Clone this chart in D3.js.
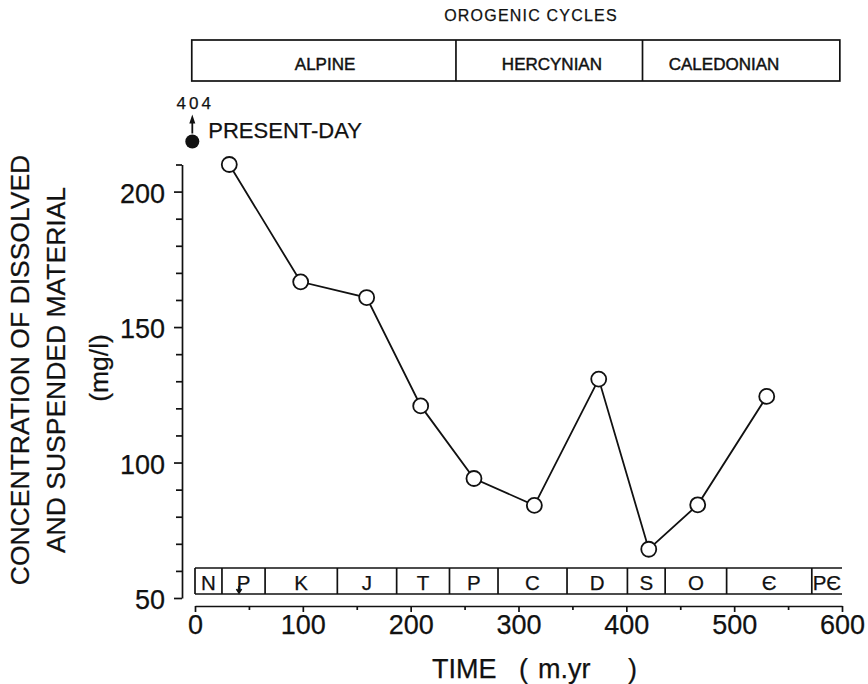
<!DOCTYPE html>
<html>
<head>
<meta charset="utf-8">
<script src="https://cdn.jsdelivr.net/npm/d3@7"></script>
<style>
  body { margin: 0; background: #fff; }
  svg text { font-family: "Liberation Sans", Arial, Helvetica, sans-serif; fill: #111; stroke: #111; stroke-width: 0.25px; }
</style>
</head>
<body>
<svg id="chart" width="868" height="684"></svg>
<script>
// Sample ages (m.y.) and river-load concentrations (mg/l)
const ages = [31.8, 98.0, 159.2, 209.3, 258.7, 314.7, 374.4, 420.8, 466.2, 530.2];
const concentration = [210, 166.7, 160.9, 120.9, 94.1, 84.2, 130.8, 68.0, 84.4, 124.4];

// Present-day value lies far above the plotted range
const presentDayAge = -2.5;
const presentDayValue = 404;

// Geological periods along the time axis
const periodNames = ["N", "Ꝑ", "K", "J", "T", "P", "C", "D", "S", "O", "Є", "PЄ"];
const periodBounds = [0, 25, 65, 132, 187, 236, 281, 345, 401, 436, 493, 572, 600];

// Orogenic cycles
const orogenicNames = ["ALPINE", "HERCYNIAN", "CALEDONIAN"];
const orogenicBounds = [-3, 242, 415, 598];
const orogenicLabelAges = [120.6, 331, 490.6];

// Axis ticks
const xTicks = d3.range(0, 601, 50);
const xTickLabels = [0, 100, 200, 300, 400, 500, 600];
const yTicks = d3.range(50, 211, 10);
const yTickLabels = [50, 100, 150, 200];

const ink = "#111";
const svg = d3.select("#chart");

const x = d3.scaleLinear().domain([0, 600]).range([195, 842]);
const y = d3.scaleLinear().domain([50, 210]).range([598, 164.5]);

// ---- X axis ----
const xAxisY = 606;
const gx = svg.append("g")
  .attr("transform", `translate(0,${xAxisY})`)
  .call(d3.axisBottom(x).tickValues(xTicks).tickSizeOuter(0)
    .tickFormat(d => xTickLabels.includes(d) ? d : ""));
gx.select(".domain").attr("stroke", ink).attr("stroke-width", 1.7);
gx.selectAll(".tick line").attr("stroke", ink).attr("stroke-width", 1.7)
  .attr("y2", d => xTickLabels.includes(d) ? 6 : 4);
gx.selectAll(".tick text").attr("font-size", 27).attr("y", 28).attr("dy", null)
  .attr("fill", ink);

// ---- Y axis ----
const yAxisX = 182;
const gy = svg.append("g")
  .attr("transform", `translate(${yAxisX},0)`)
  .call(d3.axisLeft(y).tickValues(yTicks).tickSizeOuter(0)
    .tickFormat(d => yTickLabels.includes(d) ? d : ""));
gy.select(".domain").attr("stroke", ink).attr("stroke-width", 1.7);
gy.selectAll(".tick line").attr("stroke", ink).attr("stroke-width", 1.7)
  .attr("x2", d => yTickLabels.includes(d) ? -8 : -6);
gy.selectAll(".tick text").attr("font-size", 27).attr("x", -17).attr("dy", "0.4em")
  .attr("fill", ink);

// ---- Axis titles ----
const xTitle = svg.append("text").attr("y", 678).attr("font-size", 27);
xTitle.append("tspan").attr("x", 432).text("TIME");
xTitle.append("tspan").attr("x", 519).text("(");
xTitle.append("tspan").attr("x", 538).text("m.yr");
xTitle.append("tspan").attr("x", 628).text(")");

const yTitle = svg.append("g").attr("transform", "translate(0,370) rotate(-90)");
yTitle.append("text").attr("x", 0).attr("y", 29).attr("text-anchor", "middle")
  .attr("font-size", 26.5).text("CONCENTRATION OF DISSOLVED");
yTitle.append("text").attr("x", 0).attr("y", 65).attr("text-anchor", "middle")
  .attr("font-size", 26.5).text("AND SUSPENDED MATERIAL");
yTitle.append("text").attr("x", 2).attr("y", 108).attr("text-anchor", "middle")
  .attr("font-size", 26.5).text("(mg/l)");

// ---- Period band ----
const bandTop = 568, bandBottom = 594;
const band = svg.append("g");
band.append("line").attr("x1", x(0)).attr("x2", x(600))
  .attr("y1", bandTop).attr("y2", bandTop).attr("stroke", ink).attr("stroke-width", 1.7);
band.append("line").attr("x1", x(0)).attr("x2", x(600))
  .attr("y1", bandBottom).attr("y2", bandBottom).attr("stroke", ink).attr("stroke-width", 1.7);
band.selectAll("line.div")
  .data(periodBounds.slice(0, -1))
  .join("line").attr("class", "div")
  .attr("x1", d => x(d)).attr("x2", d => x(d))
  .attr("y1", bandTop).attr("y2", bandBottom)
  .attr("stroke", ink).attr("stroke-width", 1.7);
periodNames.forEach((name, i) => {
  const cx = (x(periodBounds[i]) + x(periodBounds[i + 1])) / 2;
  const isPg = name === "Ꝑ";
  band.append("text")
    .attr("x", cx).attr("y", 590)
    .attr("text-anchor", "middle")
    .attr("font-size", 20.5)
    .text(isPg ? "P" : name);
  if (isPg) {
    // stroke through the descender of the Paleogene symbol
    const sx = cx - 4.5;
    band.append("path")
      .attr("d", `M${sx},586 L${sx},592 M${sx - 2.5},589 L${sx},593 L${sx + 2.5},589`)
      .attr("fill", "none").attr("stroke", ink).attr("stroke-width", 1.7);
  }
});

// ---- Orogenic cycles ----
const oroTop = 40, oroBottom = 81;
const oro = svg.append("g");
oro.append("rect")
  .attr("x", x(orogenicBounds[0])).attr("y", oroTop)
  .attr("width", x(orogenicBounds[3]) - x(orogenicBounds[0]))
  .attr("height", oroBottom - oroTop)
  .attr("fill", "none").attr("stroke", ink).attr("stroke-width", 1.7);
oro.selectAll("line")
  .data(orogenicBounds.slice(1, -1))
  .join("line")
  .attr("x1", d => x(d)).attr("x2", d => x(d))
  .attr("y1", oroTop).attr("y2", oroBottom)
  .attr("stroke", ink).attr("stroke-width", 1.7);
oro.selectAll("text")
  .data(orogenicNames)
  .join("text")
  .attr("x", (d, i) => x(orogenicLabelAges[i]))
  .attr("y", 69.5)
  .attr("text-anchor", "middle")
  .attr("font-size", 17)
  .style("stroke-width", "0.45px")
  .text(d => d);
svg.append("text")
  .attr("x", 531).attr("y", 21)
  .attr("text-anchor", "middle")
  .attr("font-size", 16)
  .attr("letter-spacing", 1.2)
  .text("OROGENIC CYCLES");

// ---- Data series ----
const pts = ages.map((a, i) => [a, concentration[i]]);
svg.append("path")
  .datum(pts)
  .attr("d", d3.line().x(d => x(d[0])).y(d => y(d[1])))
  .attr("fill", "none").attr("stroke", ink).attr("stroke-width", 1.8);
svg.selectAll("circle.obs")
  .data(pts)
  .join("circle").attr("class", "obs")
  .attr("cx", d => x(d[0])).attr("cy", d => y(d[1]))
  .attr("r", 7.5)
  .attr("fill", "#fff").attr("stroke", ink).attr("stroke-width", 1.8);

// ---- Present-day marker (off scale, shown above the axis top) ----
const pdX = x(presentDayAge);
const pdY = y(y.domain()[1]) - 23;
svg.append("circle")
  .attr("cx", pdX).attr("cy", pdY).attr("r", 7)
  .attr("fill", ink);
svg.append("line")
  .attr("x1", pdX).attr("x2", pdX)
  .attr("y1", pdY - 8).attr("y2", pdY - 21)
  .attr("stroke", ink).attr("stroke-width", 1.8);
svg.append("path")
  .attr("d", `M${pdX - 3},${pdY - 18} L${pdX},${pdY - 27} L${pdX + 3},${pdY - 18} Z`)
  .attr("fill", ink);
svg.append("text")
  .attr("x", pdX + 3).attr("y", pdY - 33)
  .attr("text-anchor", "middle")
  .attr("font-size", 17)
  .attr("letter-spacing", 3)
  .text(presentDayValue);
svg.append("text")
  .attr("x", pdX + 16).attr("y", pdY - 3.5)
  .attr("font-size", 22)
  .text("PRESENT-DAY");
</script>
</body>
</html>
